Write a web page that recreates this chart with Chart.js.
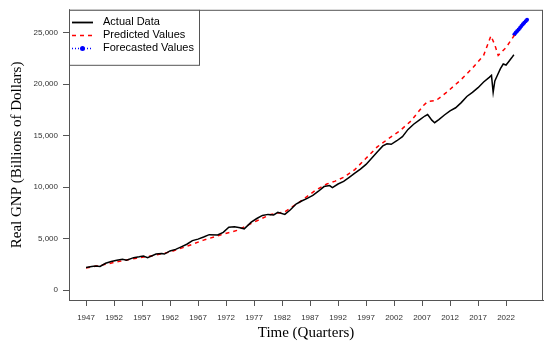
<!DOCTYPE html>
<html>
<head>
<meta charset="utf-8">
<script src="https://cdn.jsdelivr.net/npm/chart.js@4.4.1/dist/chart.umd.min.js"></script>
<style>
  html, body { margin: 0; padding: 0; background: #fff; }
  #gnpChart { display: block; }
</style>
</head>
<body>
<canvas id="gnpChart" width="550" height="345"></canvas>
<script>
// values (time in years, GNP in billions)
const actualTime = [1947.0,1948.0,1948.75,1949.5,1950.5,1951.5,1952.5,1953.5,1954.25,1955.5,1956.5,1957.25,1958.0,1959.5,1960.5,1961.0,1962.0,1963.0,1964.0,1965.0,1966.0,1967.0,1968.0,1969.0,1970.5,1971.5,1972.5,1973.5,1974.5,1975.25,1976.5,1977.5,1978.5,1979.5,1980.5,1981.25,1982.5,1983.5,1984.5,1985.5,1986.5,1987.5,1988.5,1989.5,1990.5,1991.0,1992.0,1993.0,1994.0,1995.0,1996.0,1997.0,1998.0,1999.0,2000.0,2000.75,2001.5,2002.5,2003.5,2004.5,2005.5,2006.5,2007.5,2008.0,2008.75,2009.25,2010.0,2011.0,2012.0,2013.0,2014.0,2015.0,2016.0,2017.0,2018.0,2019.0,2019.4,2019.7,2020.0,2020.5,2021.0,2021.5,2022.0,2022.5,2023.0,2023.4];
const actualGNP = [2200,2300,2330,2290,2600,2780,2900,3000,2900,3150,3230,3300,3150,3500,3560,3500,3800,3950,4200,4450,4800,4950,5150,5380,5350,5600,6100,6150,6050,5950,6600,6950,7250,7350,7300,7550,7350,7800,8350,8650,8900,9200,9600,10050,10150,9950,10300,10550,10950,11350,11750,12200,12800,13400,14000,14200,14150,14500,14900,15600,16100,16500,16900,17050,16500,16250,16550,17000,17400,17700,18200,18800,19200,19650,20200,20650,20850,19200,20300,20900,21500,21950,21850,22200,22550,22850];

const predTime = [1947.0,1950.0,1953.0,1956.0,1959.0,1962.0,1965.0,1968.0,1971.0,1974.0,1977.0,1980.0,1982.5,1985.0,1988.0,1990.0,1991.5,1993.0,1995.0,1997.0,1999.0,2001.0,2003.0,2005.0,2007.3,2008.0,2009.5,2011.5,2014.0,2016.0,2018.0,2019.3,2020.0,2020.6,2022.0,2023.5];
const predGNP = [2150,2450,2800,3100,3350,3700,4250,4850,5350,5800,6600,7350,7600,8500,9700,10300,10580,10950,11700,12800,13900,14700,15450,16400,17950,18300,18400,19250,20450,21550,22800,24680,23800,22780,23550,24750];

const foreTime = [2023.5,2023.75,2024.0,2024.25,2024.5,2024.75,2025.0,2025.25,2025.5,2025.75];
const foreGNP = [24850,25000,25150,25300,25480,25650,25800,25950,26100,26250];

const xTicks = [1947,1952,1957,1962,1967,1972,1977,1982,1987,1992,1997,2002,2007,2012,2017,2022];
const yTicks = [0,5000,10000,15000,20000,25000];

const seriesNames = ['Actual Data','Predicted Values','Forecasted Values'];

const toPoints = (xs, ys) => xs.map((x, i) => ({ x: x, y: ys[i] }));

// box around the plot region, like R's default
const frame = {
  id: 'frame',
  afterDraw(chart) {
    const a = chart.chartArea;
    const c = chart.ctx;
    c.save();
    c.strokeStyle = '#555';
    c.lineWidth = 1;
    c.strokeRect(a.left + 0.5, a.top + 0.5, a.right - a.left - 1, a.bottom - a.top);
    c.restore();
  }
};

// legend box in the top-left corner
const boxLegend = {
  id: 'boxLegend',
  afterDraw(chart) {
    const c = chart.ctx;
    const a = chart.chartArea;
    const x0 = a.left, y0 = a.top, w = 130, h = 55;
    c.save();
    c.fillStyle = '#fff';
    c.fillRect(x0, y0, w, h);
    c.strokeStyle = '#555';
    c.lineWidth = 1;
    c.strokeRect(x0 + 0.5, y0 + 0.5, w, h);
    const rows = [22, 35, 48];
    chart.data.datasets.forEach((ds, i) => {
      const y = rows[i] + 0.5;
      c.strokeStyle = ds.borderColor;
      c.lineWidth = i === 0 ? 1.8 : 1.5;
      c.setLineDash(ds.borderDash || []);
      c.beginPath();
      c.moveTo(72, y);
      c.lineTo(93, y);
      c.stroke();
      c.setLineDash([]);
      if (i === 2) {
        c.fillStyle = ds.pointBackgroundColor;
        c.beginPath();
        c.arc(82.5, y, 2.5, 0, Math.PI * 2);
        c.fill();
      }
      c.fillStyle = '#000';
      c.font = '11px "Liberation Sans", Arial, sans-serif';
      c.textBaseline = 'middle';
      c.textAlign = 'left';
      c.fillText(ds.label, 103, rows[i]);
    });
    c.restore();
  }
};

const ctx = document.getElementById('gnpChart').getContext('2d');
const tickFont = { family: '"Liberation Sans", Arial, sans-serif', size: 8 };
const titleFont = { family: '"Liberation Serif", "Times New Roman", serif', size: 15 };

new Chart(ctx, {
  type: 'line',
  data: {
    datasets: [{
      label: seriesNames[0],
      data: toPoints(actualTime, actualGNP),
      borderColor: '#000',
      borderWidth: 1.5,
      pointRadius: 0,
      tension: 0
    }, {
      label: seriesNames[1],
      data: toPoints(predTime, predGNP),
      borderColor: '#ff0000',
      borderWidth: 1.5,
      borderDash: [4, 4],
      pointRadius: 0,
      tension: 0
    }, {
      label: seriesNames[2],
      data: toPoints(foreTime, foreGNP),
      borderColor: '#0000ff',
      borderWidth: 2,
      borderDash: [1, 2],
      pointRadius: 2,
      pointBorderWidth: 0,
      pointBackgroundColor: '#0000ff',
      tension: 0
    }]
  },
  options: {
    responsive: false,
    animation: false,
    devicePixelRatio: 1,
    layout: { padding: { top: 7, right: 7, left: 0, bottom: 0 } },
    plugins: { legend: { display: false }, tooltip: { enabled: false } },
    scales: {
      x: {
        type: 'linear',
        min: 1943.96,
        max: 2028.6,
        afterFit: s => { s.height = 45; },
        afterBuildTicks: s => { s.ticks = xTicks.map(v => ({ value: v })); },
        grid: { drawOnChartArea: false, drawTicks: true, tickLength: 6, color: '#555' },
        border: { display: true, color: '#555' },
        ticks: { autoSkip: false, maxRotation: 0, padding: 7, color: '#333', font: tickFont,
                 callback: v => String(v) },
        title: { display: true, text: 'Time (Quarters)', color: '#000', font: titleFont,
                 padding: { top: 0, bottom: 3 } }
      },
      y: {
        type: 'linear',
        min: -962,
        max: 27212,
        afterFit: s => { s.width = 69; },
        afterBuildTicks: s => { s.ticks = yTicks.map(v => ({ value: v })); },
        grid: { drawOnChartArea: false, drawTicks: true, tickLength: 6, color: '#555' },
        border: { display: true, color: '#555' },
        ticks: { padding: 5, color: '#333', font: tickFont,
                 callback: v => v.toLocaleString('en-US') },
        title: { display: true, text: 'Real GNP (Billions of Dollars)', color: '#000', font: titleFont,
                 padding: { top: 8, bottom: 0 } }
      }
    }
  },
  plugins: [frame, boxLegend]
});
</script>
</body>
</html>
